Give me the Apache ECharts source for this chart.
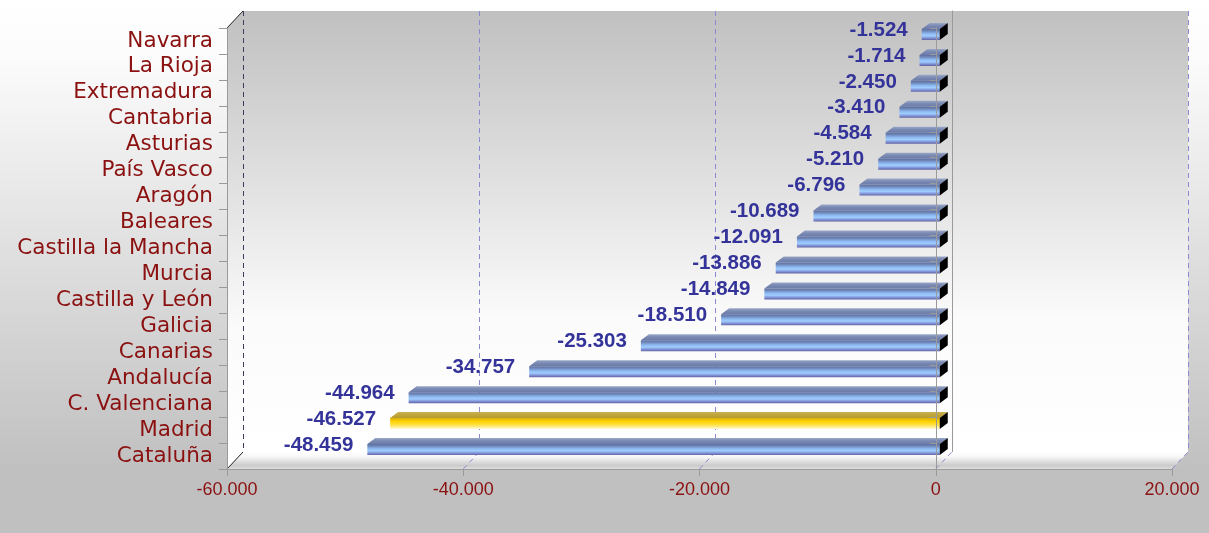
<!DOCTYPE html>
<html><head><meta charset="utf-8">
<script src="https://cdn.jsdelivr.net/npm/echarts@6/dist/echarts.min.js"></script>
<style>html,body{margin:0;padding:0;background:#fff}#c{width:1209px;height:533px}</style>
</head><body><div id="c"></div>
<script>
// ---- data ----
const categories = ['Navarra','La Rioja','Extremadura','Cantabria','Asturias','País Vasco','Aragón','Baleares','Castilla la Mancha','Murcia','Castilla y León','Galicia','Canarias','Andalucía','C. Valenciana','Madrid','Cataluña'];
const values = [-1524,-1714,-2450,-3410,-4584,-5210,-6796,-10689,-12091,-13886,-14849,-18510,-25303,-34757,-44964,-46527,-48459];
const highlighted = ['Madrid'];
const xTicks = [-60000,-40000,-20000,0,20000];
const xMin = -60000, xMax = 20000, xStep = 20000;

// ---- layout ----
const W = 1209, H = 533;
const FRONT = {left:227, right:1172, top:28, bottom:469};
const DEPTH = {dx:16, dy:-17};
const BACK = {left:FRONT.left+DEPTH.dx, right:FRONT.right+DEPTH.dx, top:FRONT.top+DEPTH.dy, bottom:FRONT.bottom+DEPTH.dy};

function fmt(v){
  const s = Math.abs(v).toString().replace(/\B(?=(\d{3})+(?!\d))/g,'.');
  return (v<0?'-':'')+s;
}
const LG = (stops)=> new echarts.graphic.LinearGradient(0,0,0,1, stops.map((c,i)=>({offset:c[0],color:c[1]})));

const blueTop = LG([[0,'#9aa8c8'],[0.4,'#7d8cb4'],[1,'#6a7aa8']]);
const blueFront = LG([[0,'#5d6e9e'],[0.18,'#6e86b8'],[0.42,'#8cb8f0'],[0.62,'#a0ceff'],[0.82,'#8094d8'],[1,'#6262a2']]);
const goldTop = LG([[0,'#c8b050'],[1,'#b89a28']]);
const goldFront = LG([[0,'#d8b010'],[0.3,'#ffd200'],[0.6,'#ffe040'],[0.85,'#fff0a0'],[1,'#fffbe0']]);

function renderBar(params, api){
  const idx = api.value(0), v = api.value(1);
  const pEnd = api.coord([v, idx]);
  const p0 = api.coord([0, idx]);
  const c = p0[1];
  const ox = 4, yTop = c-12, yBot = c-1, dx = 8, dy = -6;
  const xl = Math.min(pEnd[0], p0[0]) + ox;
  const xr = Math.max(pEnd[0], p0[0]) + ox;
  const hl = highlighted.indexOf(categories[idx]) >= 0;
  return {type:'group', children:[
    {type:'polygon', shape:{points:[[xl,yTop],[xl+dx,yTop+dy],[xr+dx,yTop+dy],[xr,yTop]]}, style:{fill: hl?goldTop:blueTop}},
    {type:'rect', shape:{x:xl, y:yTop, width:xr-xl, height:yBot-yTop}, style:{fill: hl?goldFront:blueFront}},
    {type:'polygon', shape:{points:[[xr,yTop],[xr+dx,yTop+dy],[xr+dx,yBot+dy],[xr,yBot]]}, style:{fill:'#000'}},
    {type:'text', style:{text:fmt(v), x:xl-14, y:c-11, align:'right', verticalAlign:'middle',
      fill:'#333399', fontSize:20.5, fontWeight:'bold', fontFamily:'Liberation Sans, Arial, sans-serif'}}
  ]};
}

const chart = echarts.init(document.getElementById('c'), null, {renderer:'canvas'});
const grey = '#9a9a9a';
const option = {
  animation:false,
  backgroundColor: LG([[0,'#ffffff'],[0.1,'#fcfcfc'],[0.88,'#c0c0c0'],[1,'#c0c0c0']]),
  grid:[
    {left:BACK.left, right:W-BACK.right, top:BACK.top, bottom:H-BACK.bottom, show:true, borderWidth:0,
     backgroundColor: LG([[0,'#c0c0c0'],[0.7,'#fbfbfb'],[1,'#ffffff']]), outerBoundsMode:'none'},
    {left:FRONT.left, right:W-FRONT.right, top:FRONT.top, bottom:H-FRONT.bottom, show:false, outerBoundsMode:'none'}
  ],
  xAxis:[
    {gridIndex:0, type:'value', min:xMin, max:xMax, interval:xStep,
     axisLine:{show:false}, axisTick:{show:false}, axisLabel:{show:false},
     splitLine:{show:true, lineStyle:{color:['#3c3c60','#8a8ad0','#8a8ad0','#8a8ad0','#8a8ad0'], type:[5,4], width:1}}},
    {gridIndex:1, type:'value', min:xMin, max:xMax, interval:xStep, z:3,
     axisLine:{show:true, onZero:false, lineStyle:{color:grey}},
     axisTick:{show:true, length:7, lineStyle:{color:grey}},
     axisLabel:{color:'#8b1111', fontSize:18, fontFamily:'Liberation Sans, Arial, sans-serif', margin:12, formatter:fmt},
     splitLine:{show:false}}
  ],
  yAxis:[
    {gridIndex:0, type:'category', data:categories, inverse:true, position:'left',
     axisLine:{show:true, onZero:true, lineStyle:{color:grey}}, axisTick:{show:false}, axisLabel:{show:false}, splitLine:{show:false}},
    {gridIndex:1, type:'category', data:categories, inverse:true, position:'left', z:3,
     axisLine:{show:true, onZero:false, lineStyle:{color:grey}},
     axisTick:{show:true, length:8, interval:0, lineStyle:{color:grey}},
     axisLabel:{color:'#8b1111', fontSize:21.5, fontFamily:'DejaVu Sans, Verdana, sans-serif', margin:14, interval:0, hideOverlap:false},
     splitLine:{show:false}},
    {gridIndex:1, type:'category', data:categories, inverse:true, position:'left', z:10,
     axisLine:{show:true, onZero:true, lineStyle:{color:grey}},
     axisTick:{show:true, length:6, interval:0, lineStyle:{color:grey}},
     axisLabel:{show:false}, splitLine:{show:false}}
  ],
  series:[
    {type:'custom', xAxisIndex:1, yAxisIndex:1, renderItem:renderBar, z:5,
     encode:{x:1, y:0}, data: values.map((v,i)=>[i,v])}
  ]
};
chart.setOption(option);

// 3D frame decorations (walls, floor, depth edges) from the axis scale
const g = [];
g.push({type:'polygon', z:1, silent:true,
  shape:{points:[[FRONT.left,FRONT.top],[BACK.left,BACK.top],[BACK.left,BACK.bottom],[FRONT.left,FRONT.bottom]]},
  style:{fill:LG([[0,'#c0c0c0'],[0.7,'#fbfbfb'],[1,'#ffffff']])}});
g.push({type:'polygon', z:1, silent:true,
  shape:{points:[[FRONT.left,FRONT.bottom],[BACK.left,BACK.bottom],[BACK.right,BACK.bottom],[FRONT.right,FRONT.bottom]]},
  style:{fill:LG([[0,'#ffffff'],[0.3,'#f6f6f6'],[0.8,'#cacaca'],[1,'#dedede']])}});
g.push({type:'line', z:2, silent:true, shape:{x1:FRONT.left,y1:FRONT.top,x2:BACK.left,y2:BACK.top}, style:{stroke:'#202020',lineWidth:1}});
xTicks.forEach((t,i)=>{
  const x = chart.convertToPixel({xAxisIndex:1}, t);
  const first = i===0;
  g.push({type:'line', z:2, silent:true, shape:{x1:x,y1:FRONT.bottom,x2:x+DEPTH.dx,y2:BACK.bottom},
    style:{stroke: first?'#202020':'#8a8ad0', lineWidth:1, lineDash: first?null:[5,4]}});
});
chart.setOption({graphic:g});
</script>
</body></html>
